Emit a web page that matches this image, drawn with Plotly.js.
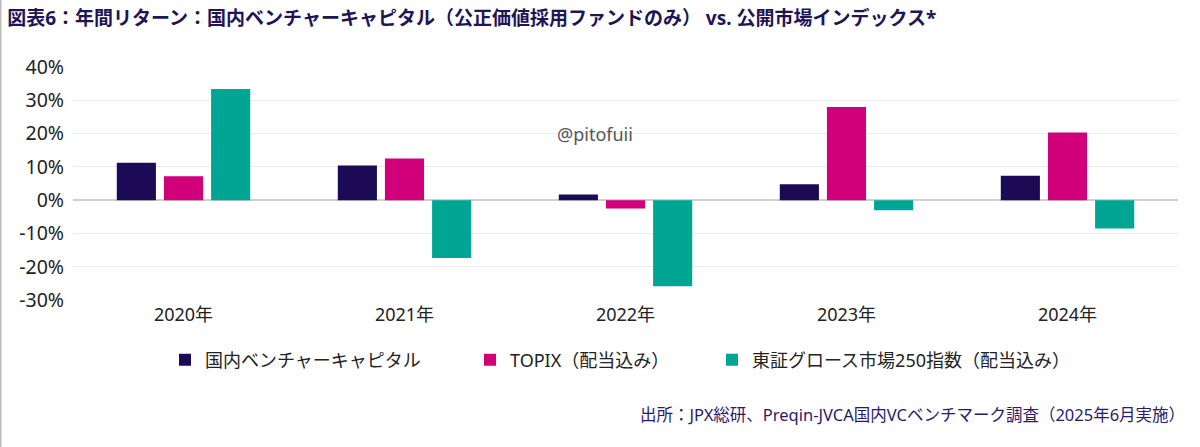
<!DOCTYPE html>
<html><head><meta charset="utf-8">
<script src="https://cdn.plot.ly/plotly-3.0.1.min.js"></script>
<style>html,body{margin:0;padding:0;background:#fff;}#chart{width:1200px;height:447px;}</style>
</head><body><div id="chart"></div>
<script>
const categories = ["2020年", "2021年", "2022年", "2023年", "2024年"];
const seriesNames = ["国内ベンチャーキャピタル", "TOPIX（配当込み）", "東証グロース市場250指数（配当込み）"];
const vcReturns = [11.2, 10.4, 1.7, 4.8, 7.3];
const topixReturns = [7.2, 12.5, -2.5, 28.0, 20.3];
const growthReturns = [33.4, -17.4, -25.9, -3.0, -8.5];
const yTickVals = [-30, -20, -10, 0, 10, 20, 30, 40];
const yTickText = ["-30%", "-20%", "-10%", "0%", "10%", "20%", "30%", "40%"];
const colors = ["#1c0a57", "#d1007a", "#00a594"];
const font = "Noto Sans, Noto Sans CJK JP, sans-serif";

const values = [vcReturns, topixReturns, growthReturns];
const legendIds = ["legend", "legend2", "legend3"];
const traces = values.map((v, i) => ({
  type: "bar", x: categories, y: v, name: seriesNames[i], legend: legendIds[i],
  marker: {color: colors[i]}, hoverinfo: "skip"
}));

const legendBase = (x) => ({
  orientation: "h", x: x, xanchor: "left", y: -0.258, yanchor: "middle",
  font: {size: 18, color: "#222"}, bgcolor: "rgba(0,0,0,0)",
  itemclick: false, itemdoubleclick: false
});

const layout = {
  width: 1200, height: 447,
  margin: {l: 73, r: 22, t: 67, b: 147},
  paper_bgcolor: "#fff", plot_bgcolor: "#fff",
  font: {family: font, color: "#222"},
  barmode: "group", bargap: 0.36, bargroupgap: 0.17,
  title: {
    text: "<b>図表6：年間リターン：国内ベンチャーキャピタル（公正価値採用ファンドのみ） vs. 公開市場インデックス*</b>",
    font: {family: font, size: 19, color: "#1e1456"},
    xref: "container", yref: "container", x: 0.006, xanchor: "left", y: 0.958, yanchor: "middle"
  },
  xaxis: {
    type: "category", showgrid: false, zeroline: false, showline: false,
    ticks: "", tickfont: {size: 18, color: "#222"}, ticklabelstandoff: 2
  },
  yaxis: {
    range: [-30, 40], tickvals: yTickVals, ticktext: yTickText,
    showgrid: true, gridcolor: "#ebebeb", gridwidth: 1,
    zeroline: true, zerolinecolor: "#cfcfcf", zerolinewidth: 2,
    showline: false, ticks: "", tickfont: {size: 19.5, color: "#222"}, ticklabelstandoff: 8
  },
  showlegend: true,
  legend: legendBase((165 - 73) / 1105),
  legend2: legendBase((470 - 73) / 1105),
  legend3: legendBase((712 - 73) / 1105),
  annotations: [
    {text: "@pitofuii", xref: "paper", yref: "paper", x: (595 - 73) / 1105, y: (300 - 134) / 233,
     showarrow: false, font: {family: font, size: 18, color: "#555"}, xanchor: "center", yanchor: "middle"},
    {text: "出所：JPX総研、Preqin-JVCA国内VCベンチマーク調査（2025年6月実施）", xref: "paper", yref: "paper",
     x: (1187 - 73) / 1105, y: -114 / 233, xanchor: "right", yanchor: "middle", showarrow: false,
     font: {family: font, size: 16.5, color: "#2a1a6e"}}
  ],
  shapes: [
    {type: "line", xref: "paper", yref: "paper", x0: -73/1105, x1: -73/1105, y0: -147/233, y1: 1 + 67/233,
     line: {color: "#bbb", width: 3}}
  ]
};
Plotly.newPlot("chart", traces, layout, {displayModeBar: false, staticPlot: true});
</script></body></html>
